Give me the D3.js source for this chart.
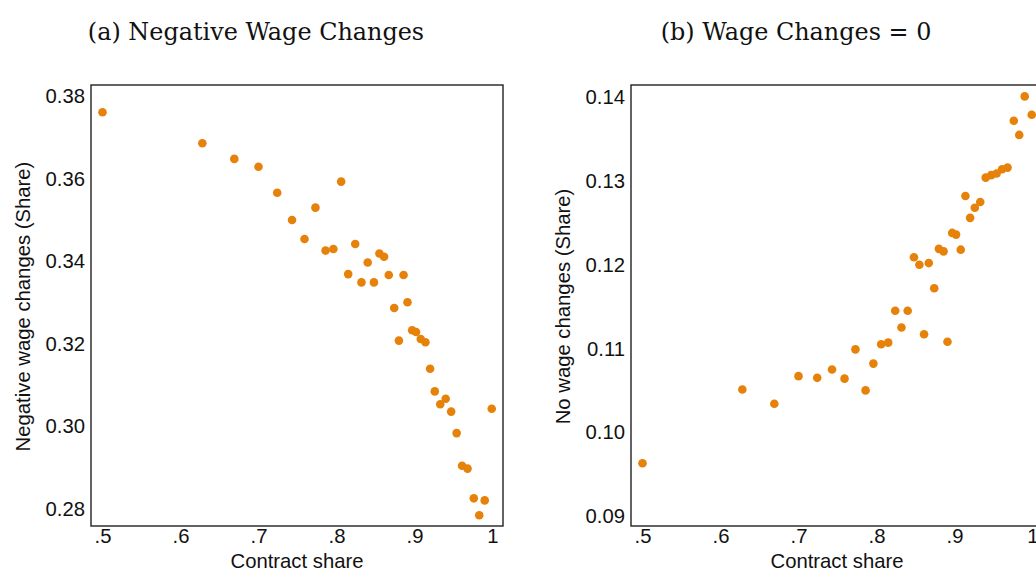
<!DOCTYPE html>
<html>
<head>
<meta charset="utf-8">
<script src="https://cdn.jsdelivr.net/npm/d3@7"></script>
<style>
  html, body { margin: 0; padding: 0; background: #fff; }
  svg { display: block; }
</style>
</head>
<body>
<svg id="chart" width="1036" height="572"></svg>
<script>
// Contract share bins (shared by both panels)
const contractShare = [0.500, 0.628, 0.669, 0.700, 0.724, 0.743, 0.759, 0.773, 0.786, 0.796,
  0.806, 0.815, 0.824, 0.832, 0.840, 0.848, 0.855, 0.861, 0.867, 0.874,
  0.880, 0.886, 0.891, 0.897, 0.902, 0.908, 0.914, 0.920, 0.926, 0.933,
  0.940, 0.947, 0.954, 0.961, 0.968, 0.976, 0.983, 0.990, 0.999];

// Panel (a): share of negative wage changes
const negativeShare = [0.3761, 0.3686, 0.3648, 0.3629, 0.3566, 0.3500, 0.3454, 0.3530, 0.3426, 0.3430,
  0.3593, 0.3369, 0.3442, 0.3349, 0.3397, 0.3349, 0.3419, 0.3411, 0.3367, 0.3287,
  0.3208, 0.3367, 0.3301, 0.3233, 0.3229, 0.3212, 0.3204, 0.3140, 0.3085, 0.3054,
  0.3067, 0.3036, 0.2984, 0.2905, 0.2898, 0.2826, 0.2785, 0.2821, 0.3043];

// Panel (b): share of zero wage changes
const zeroShare = [0.0963, 0.1051, 0.1034, 0.1067, 0.1065, 0.1075, 0.1064, 0.1099, 0.1050, 0.1082,
  0.1105, 0.1107, 0.1145, 0.1125, 0.1145, 0.1209, 0.1200, 0.1117, 0.1202, 0.1172,
  0.1219, 0.1216, 0.1108, 0.1238, 0.1236, 0.1218, 0.1282, 0.1256, 0.1268, 0.1275,
  0.1304, 0.1307, 0.1309, 0.1314, 0.1316, 0.1372, 0.1355, 0.1401, 0.1379];

const xTicks = [0.5, 0.6, 0.7, 0.8, 0.9, 1.0];
const yTicksA = [0.28, 0.30, 0.32, 0.34, 0.36, 0.38];
const yTicksB = [0.09, 0.10, 0.11, 0.12, 0.13, 0.14];

const titles = ["(a) Negative Wage Changes", "(b) Wage Changes = 0"];
const xLabel = "Contract share";
const yLabels = ["Negative wage changes (Share)", "No wage changes (Share)"];

const svg = d3.select("#chart");
const dotColor = "#e6820a";
const sansFont = "'Liberation Sans', Arial, sans-serif";
const serifFont = "'DejaVu Serif', serif";
const sansSize = "20.3px";

const panels = [
  { ox: 0, y: negativeShare, yTicks: yTicksA, yDomain: [0.2759, 0.3827], title: titles[0], yLabel: yLabels[0] },
  { ox: 540, y: zeroShare, yTicks: yTicksB, yDomain: [0.08881, 0.14146], title: titles[1], yLabel: yLabels[1] }
];

const box = { left: 91, top: 85, width: 412, height: 441 };
const xFmt = d => d === 1 ? "1" : d3.format(".1f")(d).replace(/^0/, "");

panels.forEach(p => {
  const g = svg.append("g").attr("transform", `translate(${p.ox},0)`);
  const x = d3.scaleLinear().domain([0.48526, 1.01346]).range([box.left, box.left + box.width]);
  const y = d3.scaleLinear().domain(p.yDomain).range([box.top + box.height, box.top]);

  // title
  g.append("text")
    .attr("x", 256).attr("y", 40)
    .attr("text-anchor", "middle")
    .style("font-family", serifFont)
    .style("font-size", "23.9px")
    .attr("fill", "#111")
    .text(p.title);

  // frame
  g.append("rect")
    .attr("x", box.left).attr("y", box.top)
    .attr("width", box.width).attr("height", box.height)
    .attr("fill", "none").attr("stroke", "#222").attr("stroke-width", 1.4);

  // y axis
  const yAxis = g.append("g")
    .attr("transform", `translate(${box.left},0)`)
    .call(d3.axisLeft(y).tickValues(p.yTicks).tickFormat(d3.format(".2f")).tickSize(0).tickPadding(6));
  yAxis.select(".domain").remove();
  yAxis.selectAll("text").style("font-family", sansFont).style("font-size", sansSize).attr("fill", "#111");

  // x axis
  const xAxis = g.append("g")
    .attr("transform", `translate(0,${box.top + box.height})`)
    .call(d3.axisBottom(x).tickValues(xTicks).tickFormat(xFmt).tickSize(0).tickPadding(3));
  xAxis.select(".domain").remove();
  xAxis.selectAll("text").style("font-family", sansFont).style("font-size", sansSize).attr("fill", "#111");

  // axis titles
  g.append("text")
    .attr("x", box.left + box.width / 2).attr("y", 568)
    .attr("text-anchor", "middle")
    .style("font-family", sansFont).style("font-size", sansSize).attr("fill", "#111")
    .text(xLabel);
  g.append("text")
    .attr("transform", `translate(29.5,${box.top + box.height / 2 + 1}) rotate(-90)`)
    .attr("text-anchor", "middle")
    .style("font-family", sansFont).style("font-size", sansSize).attr("fill", "#111")
    .text(p.yLabel);

  // points
  g.append("g").selectAll("circle")
    .data(contractShare.map((c, i) => ({ c, v: p.y[i] })))
    .join("circle")
    .attr("cx", d => x(d.c))
    .attr("cy", d => y(d.v))
    .attr("r", 4.3)
    .attr("fill", dotColor);
});
</script>
</body>
</html>
